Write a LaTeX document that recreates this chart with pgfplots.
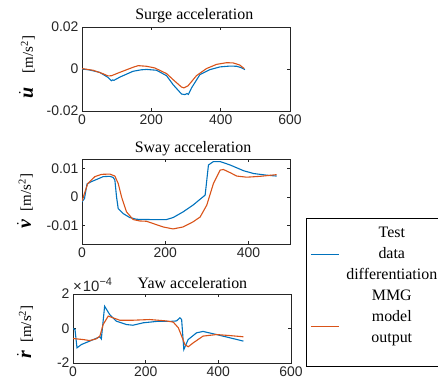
\documentclass[border=0pt]{standalone}
\usepackage{pgfplots}
\pgfplotsset{compat=1.18}
\usepackage{fontspec}
\usepackage{amsmath}
\setmainfont{Liberation Serif}
\setsansfont{Liberation Sans}
\definecolor{mblue}{rgb}{0,0.447,0.741}
\definecolor{mred}{rgb}{0.85,0.325,0.098}
\definecolor{axc}{rgb}{0.15,0.15,0.15}
\pgfplotsset{
 myax/.style={scale only axis, anchor=south west, clip mode=individual,
  axis line style={axc, line width=0.6bp},
  every tick/.style={axc, line width=0.6bp},
  tick align=inside, major tick length=3bp,
  tick label style={font=\sffamily\fontsize{14}{14}\selectfont, text=axc},
  /pgf/number format/assume math mode=true,
  scaled ticks=false,
  every axis title/.style={font=\rmfamily\fontsize{16}{16}\selectfont, anchor=base, at={(axis description cs:#1,1)}, inner sep=0pt},
  every axis plot/.append style={line width=1.1bp},
  legend image code/.code={\draw[##1, line width=1bp] (0bp,0bp) -- (28bp,0bp);},
 }
}
\newcommand{\yl}[2]{{\fontsize{20}{20}\selectfont$\dot{\text{\textbf{\textit{#1}}}}$}#2{\fontsize{15}{15}\selectfont[m/s\textsuperscript{2}]}}
\newcommand{\lt}[1]{\begin{tabular}{@{}c@{}}#1\end{tabular}}
\begin{document}
\begin{tikzpicture}
\useasboundingbox (0bp,0bp) rectangle (438bp,-392bp);
% Surge
\begin{axis}[myax=0.54, at={(82bp,-111bp)}, width=208bp, height=84bp,
 xmin=0, xmax=600, ymin=-0.02, ymax=0.02,
 xtick={0,200,400,600}, ytick={-0.02,0,0.02}, yticklabels={-0.02,0,0.02},
 title={Surge acceleration}, title style={yshift=8bp},
 ylabel={\yl{u}{\hspace{14bp}}},
 ylabel style={at={(axis description cs:-0.264,0.524)}, anchor=center}]
\addplot[mblue] coordinates {(0,0) (20,-0.0004) (51,-0.0016) (75,-0.004) (85,-0.0056) (88,-0.0052) (92,-0.0054) (110,-0.0038) (147,-0.0011) (170,-0.0004) (186,-0.0002) (215,-0.0006) (244,-0.0032) (263,-0.0075) (287,-0.0119) (297,-0.0122) (303,-0.0117) (307,-0.0121) (316,-0.009) (340,-0.0027) (369,-0.0003) (398,0.001) (427,0.0014) (446,0.0013) (460,0.0006) (470,-0.0003)};
\addplot[mred] coordinates {(0,0.0002) (32,-0.0006) (60,-0.0022) (75,-0.0033) (85,-0.0032) (109,-0.0016) (147,0.0008) (162,0.0016) (186,0.0013) (210,0.0005) (244,-0.0022) (263,-0.0051) (287,-0.0086) (294,-0.009) (306,-0.008) (330,-0.0032) (359,0.0002) (388,0.0022) (417,0.003) (436,0.0029) (455,0.0019) (468,0.0002)};
\end{axis}
% Sway
\begin{axis}[myax=0.534, at={(82bp,-244bp)}, width=208bp, height=85bp,
 xmin=0, xmax=500, ymin=-0.0166, ymax=0.0133,
 xtick={0,200,400}, ytick={-0.01,0,0.01}, yticklabels={-0.01,0,0.01},
 title={Sway acceleration}, title style={yshift=7bp},
 ylabel={\yl{v}{\hspace{8bp}}},
 ylabel style={at={(axis description cs:-0.274,0.506)}, anchor=center}]
\addplot[mblue] coordinates {(0,-0.0018) (6,-0.0006) (12,0.0045) (22,0.0053) (35,0.0061) (51,0.0071) (67,0.0072) (75,0.0068) (79,0.0059) (83,0) (87,-0.0041) (99,-0.0059) (115,-0.0073) (131,-0.0079) (163,-0.008) (203,-0.008) (219,-0.0073) (243,-0.0053) (267,-0.0029) (296,0.0006) (300,0.0059) (304,0.0112) (316,0.0124) (332,0.0124) (356,0.0112) (388,0.0092) (412,0.0082) (444,0.0076) (468,0.0073)};
\addplot[mred] coordinates {(0,-0.0015) (6,0.0012) (14,0.0047) (31,0.0071) (47,0.0079) (67,0.008) (79,0.0073) (87,0.0047) (95,0) (107,-0.0053) (123,-0.008) (139,-0.0085) (155,-0.0086) (171,-0.0094) (195,-0.0106) (219,-0.0113) (243,-0.0106) (267,-0.0088) (284,-0.0071) (300,-0.0029) (316,0.0047) (332,0.0094) (340,0.0096) (356,0.0085) (372,0.0073) (396,0.0069) (428,0.0072) (468,0.0078)};
\end{axis}
% Yaw
\begin{axis}[myax=0.548, at={(73bp,-363bp)}, width=218bp, height=69bp,
 xmin=0, xmax=600, ymin=-2, ymax=2,
 xtick={0,200,400,600}, ytick={-2,0,2}, yticklabels={-2,0,2},
 title={Yaw acceleration}, title style={yshift=6bp},
 ylabel={\yl{r}{\hspace{8bp}}},
 ylabel style={at={(axis description cs:-0.22,0.45)}, anchor=center},
 legend style={at={(axis description cs:1.069,2.101)}, anchor=north west, draw=black, line width=0.6bp,
   font=\rmfamily\fontsize{16}{21}\selectfont,
   inner xsep=4bp, inner ysep=5bp, column sep=7bp, row sep=0bp, nodes={inner sep=0pt, text depth=}},
 ]
\addplot[mblue] coordinates {(0,0) (5.5,-0.06) (11,-1.12) (23,-0.93) (46,-0.73) (74,-0.48) (78,-0.6) (87,1.29) (101,0.81) (119,0.43) (147,0.23) (165,0.19) (193,0.33) (230,0.41) (267,0.41) (285,0.44) (294,0.62) (299,0.52) (305,-1.22) (317,-0.64) (340,-0.25) (358,-0.17) (395,-0.35) (432,-0.54) (469,-0.73)};
\addlegendentry{\lt{Test\\data\\differentiation}}
\addplot[mred, legend image post style={yshift=-3bp}] coordinates {(0,-0.58) (28,-0.64) (46,-0.7) (64,-0.6) (74,-0.44) (83,0.23) (97,0.72) (110,0.62) (129,0.48) (165,0.48) (211,0.52) (257,0.44) (276,0.37) (290,0.04) (299,-0.44) (308,-0.93) (317,-1.06) (331,-0.83) (358,-0.44) (395,-0.35) (432,-0.41) (469,-0.48)};
\addlegendentry{\lt{MMG\\model\\output\rule[-19bp]{0pt}{0pt}}}
\node[anchor=south west, inner sep=0pt, font=\sffamily\fontsize{15}{15}\selectfont, text=axc] at (axis description cs:0,1) [yshift=2bp] {×\kern1bp10\raisebox{6bp}{\fontsize{11}{11}\selectfont −4}};
\end{axis}
\end{tikzpicture}
\end{document}
